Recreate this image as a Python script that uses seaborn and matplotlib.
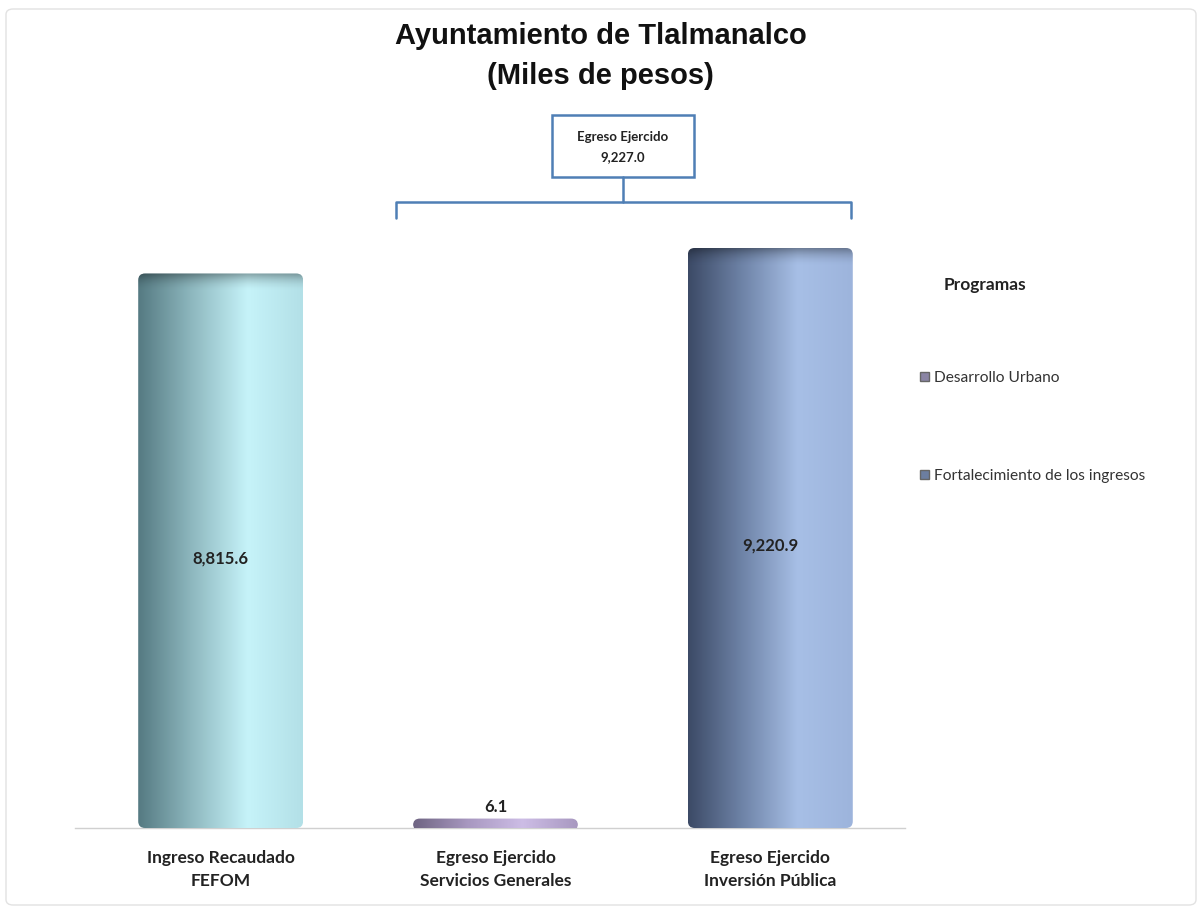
import numpy as np
import pandas as pd
import seaborn as sns
import matplotlib.pyplot as plt
from matplotlib.colors import LinearSegmentedColormap
from matplotlib.patches import Patch, FancyBboxPatch, Rectangle

# Data
categorias = ["Ingreso Recaudado\nFEFOM", "Egreso Ejercido\nServicios Generales", "Egreso Ejercido\nInversión Pública"]
valores = [8815.6, 6.1, 9220.9]
etiquetas = ["8,815.6", "6.1", "9,220.9"]
total_egreso = 9227.0
programas = ["Desarrollo Urbano", "Fortalecimiento de los ingresos"]

# gradient stops per bar (left dark -> light -> slightly darker)
gradientes = [
    ["#557a82", "#8fb9c0", "#c6f3f9", "#b3e0e7"],
    ["#6e6482", "#a898c0", "#cdbde6", "#a898c0"],
    ["#3c4a66", "#6f84a8", "#a7bfe6", "#9db4dc"],
]

sns.set_theme(style="white")
plt.rcParams["font.family"] = ["Lato", "DejaVu Sans"]

fig = plt.figure(figsize=(12.01, 9.10), dpi=100)
ax = fig.add_axes([75 / 1201, (910 - 828) / 910, 830 / 1201, 728 / 910])

df = pd.DataFrame({"cat": categorias, "valor": valores})
sns.barplot(data=df, x="cat", y="valor", ax=ax, width=0.6, color="white", edgecolor="none")

ax.set_ylim(0, 11574)
ax.set_xlim(-0.53, 2.49)

# gradient fill inside each bar, clipped to a rounded box
for patch, cols in zip(ax.patches, gradientes):
    x0, y0 = patch.get_x(), patch.get_y()
    w, h = patch.get_width(), patch.get_height()
    if h < 200:
        h_draw = 190
        y_draw = -40
    else:
        h_draw = h
        y_draw = y0
    cmap = LinearSegmentedColormap.from_list("g", cols)
    grad = np.linspace(0, 1, 256).reshape(1, -1)
    clip = FancyBboxPatch((x0, y_draw), w, h_draw,
                          boxstyle="round,pad=0,rounding_size=0.025",
                          mutation_aspect=4300,
                          transform=ax.transData, facecolor="none", edgecolor="none")
    ax.add_patch(clip)
    im = ax.imshow(grad, extent=[x0, x0 + w, y_draw, y_draw + h_draw], aspect="auto",
                   cmap=cmap, zorder=3)
    im.set_clip_path(clip)
    # slight shading at the top of the cylinder
    if h >= 200:
        top = np.linspace(0, 1, 64).reshape(-1, 1)
        shade = np.zeros((64, 1, 4))
        shade[..., 3] = (top ** 2) * 0.35
        im2 = ax.imshow(shade, extent=[x0, x0 + w, y0 + h - 300, y0 + h], aspect="auto",
                        origin="lower", zorder=4)
        im2.set_clip_path(clip)

# value labels
ax.text(0, valores[0] / 2 - 120, etiquetas[0], ha="center", va="center",
        fontsize=12, fontweight="bold", color="#222222", zorder=5)
ax.text(1, 330, etiquetas[1], ha="center", va="center",
        fontsize=12, fontweight="bold", color="#222222", zorder=5)
ax.text(2, valores[2] / 2 - 120, etiquetas[2], ha="center", va="center",
        fontsize=12, fontweight="bold", color="#222222", zorder=5)

ax.set_xlabel("")
ax.set_ylabel("")
ax.set_yticks([])
ax.tick_params(axis="x", length=0, pad=16)
for lbl in ax.get_xticklabels():
    lbl.set_fontsize(12.5)
    lbl.set_fontweight("bold")
    lbl.set_color("#222222")
    lbl.set_linespacing(1.55)
sns.despine(ax=ax, left=True, top=True, right=True)
ax.spines["bottom"].set_color("#d0d0d0")
ax.spines["bottom"].set_linewidth(1)

# title
fig.text(0.5, 1 - 36 / 910, "Ayuntamiento de Tlalmanalco", ha="center", va="center",
         fontsize=21, fontweight="bold", color="#111111", family=["Liberation Sans", "DejaVu Sans"])
fig.text(0.5, 1 - 76 / 910, "(Miles de pesos)", ha="center", va="center",
         fontsize=21, fontweight="bold", color="#111111", family=["Liberation Sans", "DejaVu Sans"])

# bracket + box for total egreso
azul = "#4f7fb5"
def fx(px):
    return px / 1201
def fy(py):
    return 1 - py / 910
fig.add_artist(plt.Line2D([fx(396), fx(396), fx(851), fx(851)],
                          [fy(218), fy(202), fy(202), fy(218)], color=azul, lw=1.8))
fig.add_artist(plt.Line2D([fx(623), fx(623)], [fy(177), fy(202)], color=azul, lw=1.8))
fig.add_artist(Rectangle((fx(552), fy(177)), fx(142), 62 / 910, transform=fig.transFigure,
                         facecolor="white", edgecolor=azul, lw=1.8))
fig.text(fx(623), fy(137), "Egreso Ejercido", ha="center", va="center",
         fontsize=9.5, fontweight="bold", color="#222222")
fig.text(fx(623), fy(157), f"{total_egreso:,.1f}", ha="center", va="center",
         fontsize=9.5, fontweight="bold", color="#222222")

# legend
fig.text(fx(944), fy(285), "Programas", ha="left", va="center",
         fontsize=12.5, fontweight="bold", color="#222222")
handles = [Patch(facecolor="#8a84a4", edgecolor="#666666", label=programas[0]),
           Patch(facecolor="#6c7ea0", edgecolor="#666666", label=programas[1])]
leg = fig.legend(handles=handles, loc="upper left",
                 bbox_to_anchor=(fx(920), fy(371)), frameon=False,
                 fontsize=11.2, labelspacing=5.4,
                 handlelength=0.6, handleheight=0.6, handletextpad=0.3,
                 borderaxespad=0, borderpad=0)
for t in leg.get_texts():
    t.set_color("#333333")

# faint outer frame
fig.add_artist(FancyBboxPatch((fx(6), fy(905)), fx(1190), 896 / 910,
                              boxstyle="round,pad=0,rounding_size=0.006",
                              transform=fig.transFigure, facecolor="none",
                              edgecolor="#e2e2e2", lw=1))

fig.savefig("out.png", dpi=100)
